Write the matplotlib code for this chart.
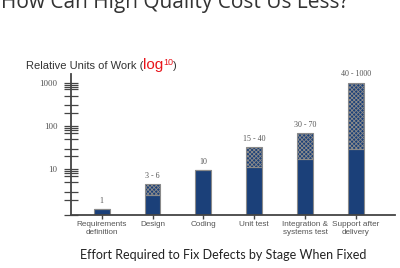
import matplotlib
matplotlib.use("Agg")
import matplotlib.pyplot as plt
from matplotlib.ticker import LogLocator, NullFormatter, FixedFormatter, FixedLocator

# stages and effort ranges (log scale)
stages = ["Requirements\ndefinition", "Design", "Coding", "Unit test",
          "Integration &\nsystems test", "Support after\ndelivery"]
low_vals = [1.23, 2.5, 9.5, 11.3, 17, 30]
high_vals = [1.23, 4.5, 9.5, 32, 67, 1000]
range_labels = ["1", "3 - 6", "10", "15 - 40", "30 - 70", "40 - 1000"]
y_ticks = [10, 100, 1000]
y_tick_labels = ["10", "100", "1000"]

navy = "#1b4079"
grey = "#444444"
plt.rcParams["hatch.color"] = "#e8eef8"
plt.rcParams["hatch.linewidth"] = 0.6

fig = plt.figure(figsize=(4, 2.68), dpi=100)
ax = fig.add_axes([0.1775, 0.1978, 0.81, 0.5261])

x = list(range(len(stages)))
ybottom = 0.88
ax.set_yscale("log")
ax.set_ylim(ybottom, 1585)
ax.set_xlim(-0.604, 5.77)

w = 0.31
ax.bar(x, [v - ybottom for v in low_vals], bottom=ybottom, width=w,
       color=navy, edgecolor="#8a8a8a", linewidth=0.8, zorder=2)
hi = [h - l for h, l in zip(high_vals, low_vals)]
ax.bar(x, hi, bottom=low_vals, width=w, color=navy, edgecolor="#8a8a8a",
       linewidth=0.8, hatch="xxxxxxxx", zorder=2)

for xi, top, lab in zip(x, high_vals, range_labels):
    ax.annotate(lab, (xi, top), xytext=(0, 3), textcoords="offset points",
                ha="center", va="bottom", fontsize=5.8, color="#555555",
                family="Liberation Serif")

for s in ["top", "right"]:
    ax.spines[s].set_visible(False)
for s in ["left", "bottom"]:
    ax.spines[s].set_color(grey)
    ax.spines[s].set_linewidth(1.3)

ax.yaxis.set_major_locator(FixedLocator(y_ticks))
ax.yaxis.set_major_formatter(FixedFormatter(y_tick_labels))
ax.yaxis.set_minor_locator(LogLocator(base=10, subs=[2, 3, 5, 7, 8, 9]))
ax.yaxis.set_minor_formatter(NullFormatter())
ax.tick_params(axis="y", which="both", direction="inout", length=9.5,
               width=0.9, color=grey, labelsize=6.5, labelcolor="#555555", pad=5)
for t in ax.get_yticklabels():
    t.set_family("Liberation Serif")

ax.set_xticks(x)
ax.set_xticklabels(stages)
ax.tick_params(axis="x", direction="out", length=3, width=1, color=grey,
               labelsize=5.9, labelcolor="#555555", pad=1.5)
for t in ax.get_xticklabels():
    t.set_family("Liberation Sans")
    t.set_linespacing(1.25)

# slide title (cut at the top) and captions
fig.text(0.003, 0.97, "How Can High Quality Cost Us Less?", fontsize=15,
         color="#333333", family="Open Sans", va="baseline")
fig.text(0.065, 0.743, "Relative Units of Work (", fontsize=8,
         color="#333333", family="Liberation Sans", va="baseline")
fig.text(0.357, 0.743, "log", fontsize=11, color="#e8141b",
         family="Liberation Sans", va="baseline")
fig.text(0.409, 0.757, "10", fontsize=6.5, color="#e8141b",
         family="Liberation Sans", va="baseline")
fig.text(0.432, 0.743, ")", fontsize=8, color="#333333",
         family="Liberation Sans", va="baseline")
fig.text(0.5575, 0.035, "Effort Required to Fix Defects by Stage When Fixed",
         fontsize=9, color="#222222", family="Lato", ha="center", va="baseline")

fig.savefig("out.png", dpi=100)
